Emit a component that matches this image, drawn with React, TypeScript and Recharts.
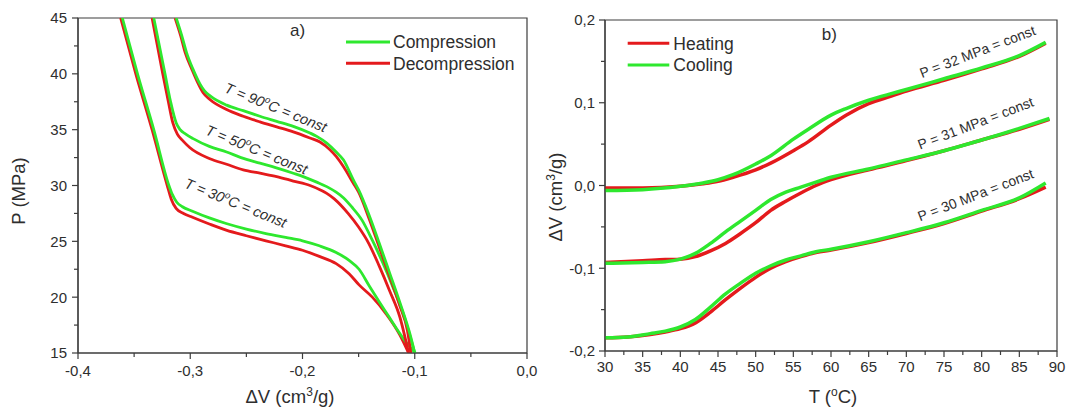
import React from 'react';
import { LineChart, Line, XAxis, YAxis, ReferenceArea, ReferenceDot } from 'recharts';

const GREEN = '#2ee82e';
const RED = '#e41a1c';
const AXIS = '#3c3c3c';
const TEXT = '#2e2e2e';
const FONT = '"Liberation Sans", Arial, Helvetica, sans-serif';

// ---------- Panel a) : [ΔV (cm3/g), P (MPa)] ----------
const compression30: [number, number][] = [
  [-0.3605, 45], [-0.347, 40], [-0.3325, 35], [-0.319, 30], [-0.316, 29.2], [-0.312, 28.5],
  [-0.307, 28.1], [-0.298, 27.7], [-0.283, 27.1], [-0.268, 26.6], [-0.25, 26.1], [-0.2326, 25.7],
  [-0.215, 25.35], [-0.2, 25.05], [-0.185, 24.6], [-0.17, 24.0], [-0.1585, 23.3], [-0.1496, 22.5],
  [-0.1405, 21.0], [-0.1317, 19.6], [-0.124, 18.4], [-0.1163, 17.2], [-0.108, 16.0], [-0.0995, 15],
];
const decompression30: [number, number][] = [
  [-0.362, 45], [-0.3485, 40], [-0.334, 35], [-0.3205, 30], [-0.317, 28.8], [-0.3126, 27.95],
  [-0.306, 27.5], [-0.298, 27.15], [-0.283, 26.55], [-0.268, 26.0], [-0.25, 25.5], [-0.2326, 25.05],
  [-0.215, 24.6], [-0.2, 24.2], [-0.185, 23.65], [-0.17, 23.0], [-0.1585, 22.1], [-0.1496, 21.1],
  [-0.1378, 20.0], [-0.1255, 18.5], [-0.1132, 16.6], [-0.1055, 15],
];
const compression50: [number, number][] = [
  [-0.3325, 45], [-0.3225, 40], [-0.3175, 37.5], [-0.3125, 35.6], [-0.309, 35.0], [-0.304, 34.6],
  [-0.2974, 34.2], [-0.283, 33.5], [-0.2676, 33.0], [-0.2548, 32.5], [-0.2379, 32.0], [-0.224, 31.6],
  [-0.2082, 31.1], [-0.1994, 30.8], [-0.1873, 30.3], [-0.1784, 29.9], [-0.17, 29.4], [-0.1636, 28.9],
  [-0.1563, 28.1], [-0.147, 26.9], [-0.1378, 25.1], [-0.1286, 23.1], [-0.1194, 20.9], [-0.1102, 18.5],
  [-0.1, 15],
];
const decompression50: [number, number][] = [
  [-0.334, 45], [-0.3245, 40], [-0.3195, 37.5], [-0.3155, 35.6], [-0.3115, 34.6], [-0.3065, 34.0],
  [-0.3005, 33.4], [-0.2825, 32.4], [-0.2676, 31.9], [-0.2528, 31.4], [-0.2379, 31.1], [-0.223, 30.8],
  [-0.2082, 30.4], [-0.1933, 30.0], [-0.184, 29.6], [-0.1784, 29.3], [-0.1717, 28.8], [-0.1594, 27.5],
  [-0.1502, 26.3], [-0.1409, 24.8], [-0.1317, 22.8], [-0.1225, 20.6], [-0.1132, 18.2], [-0.1055, 15],
];
const compression90: [number, number][] = [
  [-0.3125, 45], [-0.3075, 43.4], [-0.3033, 41.9], [-0.2975, 40.4], [-0.2914, 39.1], [-0.2875, 38.5],
  [-0.282, 38.0], [-0.2676, 37.2], [-0.2528, 36.7], [-0.2379, 36.2], [-0.223, 35.75], [-0.2082, 35.3],
  [-0.1933, 34.7], [-0.1873, 34.4], [-0.1784, 33.8], [-0.17, 33.0], [-0.1636, 32.3], [-0.1547, 30.5],
  [-0.15, 29.6], [-0.1409, 27.4], [-0.1317, 24.85], [-0.1225, 22.2], [-0.1132, 19.5], [-0.104, 16.6],
  [-0.1, 15],
];
const decompression90: [number, number][] = [
  [-0.3135, 45], [-0.3085, 43.4], [-0.3045, 41.9], [-0.2985, 40.4], [-0.2928, 39.1], [-0.2885, 38.3],
  [-0.2825, 37.7], [-0.2676, 36.8], [-0.2528, 36.2], [-0.2379, 35.7], [-0.223, 35.25], [-0.2082, 34.8],
  [-0.1933, 34.25], [-0.1844, 33.9], [-0.1755, 33.2], [-0.17, 32.6], [-0.1636, 31.7], [-0.1547, 30.2],
  [-0.15, 29.4], [-0.1409, 27.1], [-0.1317, 24.5], [-0.1225, 21.9], [-0.1132, 19.2], [-0.1065, 17.0],
  [-0.1035, 15],
];
const aXTicks = [-0.4, -0.35, -0.3, -0.25, -0.2, -0.15, -0.1, -0.05, 0];
const aYTicks = [15, 17.5, 20, 22.5, 25, 27.5, 30, 32.5, 35, 37.5, 40, 42.5, 45];
const aCurveLabels = [
  { dv: -0.2238, p: 36.99, t: '90' },
  { dv: -0.2409, p: 33.21, t: '50' },
  { dv: -0.2595, p: 28.44, t: '30' },
];

// ---------- Panel b) : T (°C) vs ΔV (cm3/g) ----------
const temps32 = [30, 35, 40, 43, 45, 47, 50, 52, 55, 57, 60, 62, 65, 68, 70, 75, 80, 85, 88.5];
const heating32 = [-0.003, -0.003, -0.001, 0.002, 0.005, 0.01, 0.019, 0.027, 0.042, 0.053, 0.073, 0.085, 0.099, 0.108, 0.114, 0.127, 0.141, 0.156, 0.172];
const cooling32 = [-0.006, -0.005, -0.001, 0.003, 0.007, 0.013, 0.026, 0.036, 0.056, 0.068, 0.085, 0.093, 0.103, 0.111, 0.116, 0.129, 0.142, 0.157, 0.173];

const temps31 = [30, 35, 38, 40, 42, 44, 46, 48, 50, 52, 54, 56, 58, 60, 65, 70, 75, 80, 85, 89];
const heating31 = [-0.093, -0.091, -0.0895, -0.089, -0.086, -0.079, -0.07, -0.058, -0.045, -0.03, -0.019, -0.009, 0.0, 0.007, 0.019, 0.03, 0.042, 0.055, 0.068, 0.08];
const cooling31 = [-0.094, -0.093, -0.092, -0.089, -0.082, -0.07, -0.056, -0.043, -0.03, -0.017, -0.008, -0.002, 0.004, 0.01, 0.02, 0.031, 0.042, 0.055, 0.069, 0.081];

const temps30 = [30, 33, 36, 38, 40, 42, 44, 46, 48, 50, 52, 54, 56, 58, 60, 65, 70, 75, 80, 85, 88.5];
const heating30 = [-0.184, -0.183, -0.18, -0.177, -0.173, -0.166, -0.153, -0.138, -0.124, -0.111, -0.1, -0.092, -0.086, -0.081, -0.078, -0.069, -0.058, -0.046, -0.031, -0.016, -0.002];
const cooling30 = [-0.184, -0.183, -0.179, -0.176, -0.171, -0.162, -0.147, -0.131, -0.118, -0.106, -0.097, -0.09, -0.085, -0.08, -0.077, -0.068, -0.057, -0.045, -0.03, -0.015, 0.003];

const bXTicks = [30, 32.5, 35, 37.5, 40, 42.5, 45, 47.5, 50, 52.5, 55, 57.5, 60, 62.5, 65, 67.5, 70, 72.5, 75, 77.5, 80, 82.5, 85, 87.5, 90];
const bYTicks = [-0.2, -0.15, -0.1, -0.05, 0, 0.05, 0.1, 0.15, 0.2];
const bCurveLabels = [
  { t: 79.45, dv: 0.1617, p: '32' },
  { t: 79.2, dv: 0.0752, p: '31' },
  { t: 79.2, dv: -0.0115, p: '30' },
];

// ---------- helpers ----------
const toPts = (arr: [number, number][]) => arr.map(([v, p]) => ({ v, p }));
const zipPts = (ts: number[], vs: number[]) => ts.map((t, i) => ({ t, dv: vs[i] }));
const commaFmt = (v: number, d: number) => v.toFixed(d).replace('.', ',');
const isTenth = (v: number) => Math.abs(Math.round(v * 10) - v * 10) < 1e-6;
const isFive = (v: number) => Math.abs(v % 5) < 1e-6;

const makeXTick = (isMajor: (v: number) => boolean, fmt: (v: number) => string, labelDy: number) =>
  (props: any) => {
    const { x, y, payload } = props;
    const v = payload.value;
    const major = isMajor(v);
    return (
      <g>
        <line x1={x} x2={x} y1={y} y2={y + (major ? 6 : 4)} stroke={AXIS} strokeWidth={1.2} />
        {major && (
          <text x={x} y={y + labelDy} textAnchor="middle" fontSize={15} fill={TEXT} fontFamily={FONT}>
            {fmt(v)}
          </text>
        )}
      </g>
    );
  };

const makeYTick = (isMajor: (v: number) => boolean, fmt: (v: number) => string, gap: number) =>
  (props: any) => {
    const { x, y, payload } = props;
    const v = payload.value;
    const major = isMajor(v);
    return (
      <g>
        <line x1={x - (major ? 6 : 4)} x2={x} y1={y} y2={y} stroke={AXIS} strokeWidth={1.2} />
        {major && (
          <text x={x - gap} y={y} dy="0.36em" textAnchor="end" fontSize={15} fill={TEXT} fontFamily={FONT}>
            {fmt(v)}
          </text>
        )}
      </g>
    );
  };

const aLabelShape = (t: string) => (props: any) => {
  const { cx, cy } = props;
  return (
    <text x={cx} y={cy} dy="0.35em" transform={`rotate(22 ${cx} ${cy})`} textAnchor="middle"
      fontSize={14.5} fontStyle="italic" fill={TEXT} fontFamily={FONT}>
      T = {t}<tspan dy={-6} fontSize={9.5}>o</tspan><tspan dy={6}>C = const</tspan>
    </text>
  );
};

const bLabelShape = (p: string) => (props: any) => {
  const { cx, cy } = props;
  return (
    <text x={cx} y={cy} dy="0.35em" transform={`rotate(-21 ${cx} ${cy})`} textAnchor="middle"
      fontSize={14} fill={TEXT} fontFamily={FONT}>
      {`P = ${p} MPa = const`}
    </text>
  );
};

export default function App() {
  const lineA = { dot: false, isAnimationActive: false, type: 'monotone' as const, strokeWidth: 2.8 };
  const lineB = { dot: false, isAnimationActive: false, type: 'monotone' as const, strokeWidth: 3.5 };
  return (
    <div style={{ position: 'absolute', left: 0, top: 0, width: 1067, height: 407, background: '#fff', fontFamily: FONT, overflow: 'hidden' }}>
      {/* Panel a */}
      <div style={{ position: 'absolute', left: 0, top: 0 }}>
        <LineChart width={540} height={407} margin={{ top: 18, right: 13, bottom: 0, left: 0 }}>
          <XAxis type="number" dataKey="v" domain={[-0.4, 0]} ticks={aXTicks} interval={0}
            allowDataOverflow height={54} tickSize={0} tickMargin={0} tickLine={false}
            axisLine={{ stroke: AXIS, strokeWidth: 1.2 }} tick={makeXTick(isTenth, (v) => commaFmt(v, 1), 23)} />
          <YAxis type="number" dataKey="p" domain={[15, 45]} ticks={aYTicks} interval={0}
            allowDataOverflow width={78} tickSize={0} tickMargin={0} tickLine={false}
            axisLine={{ stroke: AXIS, strokeWidth: 1.2 }} tick={makeYTick(isFive, (v) => String(v), 11)} />
          <ReferenceArea x1={-0.4} x2={0} y1={15} y2={45} fill="none" fillOpacity={0} stroke={AXIS} strokeWidth={1.2} ifOverflow="visible" />
          <Line data={toPts(decompression30)} dataKey="p" stroke={RED} {...lineA} />
          <Line data={toPts(compression30)} dataKey="p" stroke={GREEN} {...lineA} />
          <Line data={toPts(decompression50)} dataKey="p" stroke={RED} {...lineA} />
          <Line data={toPts(compression50)} dataKey="p" stroke={GREEN} {...lineA} />
          <Line data={toPts(decompression90)} dataKey="p" stroke={RED} {...lineA} />
          <Line data={toPts(compression90)} dataKey="p" stroke={GREEN} {...lineA} />
          {aCurveLabels.map((l) => (
            <ReferenceDot key={l.t} x={l.dv} y={l.p} r={1} ifOverflow="visible" shape={aLabelShape(l.t)} />
          ))}
        </LineChart>
      </div>

      {/* Panel b */}
      <div style={{ position: 'absolute', left: 540, top: 0 }}>
        <LineChart width={527} height={407} margin={{ top: 20, right: 10, bottom: 0, left: 0 }}>
          <XAxis type="number" dataKey="t" domain={[30, 90]} ticks={bXTicks} interval={0}
            allowDataOverflow height={56} tickSize={0} tickMargin={0} tickLine={false}
            axisLine={{ stroke: AXIS, strokeWidth: 1.2 }} tick={makeXTick(isFive, (v) => String(v), 21)} />
          <YAxis type="number" dataKey="dv" domain={[-0.2, 0.2]} ticks={bYTicks} interval={0}
            allowDataOverflow width={65} tickSize={0} tickMargin={0} tickLine={false}
            axisLine={{ stroke: AXIS, strokeWidth: 1.2 }} tick={makeYTick(isTenth, (v) => commaFmt(v, 1), 10)} />
          <ReferenceArea x1={30} x2={90} y1={-0.2} y2={0.2} fill="none" fillOpacity={0} stroke={AXIS} strokeWidth={1.2} ifOverflow="visible" />
          <Line data={zipPts(temps32, heating32)} dataKey="dv" stroke={RED} {...lineB} />
          <Line data={zipPts(temps32, cooling32)} dataKey="dv" stroke={GREEN} {...lineB} />
          <Line data={zipPts(temps31, heating31)} dataKey="dv" stroke={RED} {...lineB} />
          <Line data={zipPts(temps31, cooling31)} dataKey="dv" stroke={GREEN} {...lineB} />
          <Line data={zipPts(temps30, heating30)} dataKey="dv" stroke={RED} {...lineB} />
          <Line data={zipPts(temps30, cooling30)} dataKey="dv" stroke={GREEN} {...lineB} />
          {bCurveLabels.map((l) => (
            <ReferenceDot key={l.p} x={l.t} y={l.dv} r={1} ifOverflow="visible" shape={bLabelShape(l.p)} />
          ))}
        </LineChart>
      </div>

      {/* Titles, legends and panel letters */}
      <svg width={1067} height={407} style={{ position: 'absolute', left: 0, top: 0, pointerEvents: 'none' }} fontFamily={FONT}>
        {/* panel a */}
        <text x={290} y={35.5} fontSize={17} fill={TEXT}>a)</text>
        <line x1={346} x2={390} y1={42} y2={42} stroke={GREEN} strokeWidth={3} />
        <text x={393} y={48.3} fontSize={17.5} fill={TEXT}>Compression</text>
        <line x1={346} x2={390} y1={63.3} y2={63.3} stroke={RED} strokeWidth={3} />
        <text x={393} y={69.6} fontSize={17.5} fill={TEXT}>Decompression</text>
        <text x={19} y={191} dy="0.35em" transform="rotate(-90 19 191)" textAnchor="middle" fontSize={18.5} fill={TEXT}>P (MPa)</text>
        <text x={290} y={403} textAnchor="middle" fontSize={18.5} fill={TEXT}>
          ΔV (cm<tspan dy={-7} fontSize={12}>3</tspan><tspan dy={7}>/g)</tspan>
        </text>

        {/* panel b */}
        <text x={821.7} y={40} fontSize={17} fill={TEXT}>b)</text>
        <line x1={627.7} x2={669.3} y1={43.3} y2={43.3} stroke={RED} strokeWidth={3} />
        <text x={673.3} y={49.6} fontSize={17.5} fill={TEXT}>Heating</text>
        <line x1={627.7} x2={669.3} y1={65} y2={65} stroke={GREEN} strokeWidth={3} />
        <text x={673.3} y={71.3} fontSize={17.5} fill={TEXT}>Cooling</text>
        <text x={556} y={197} dy="0.35em" transform="rotate(-90 556 197)" textAnchor="middle" fontSize={18.5} fill={TEXT}>
          ΔV (cm<tspan dy={-7} fontSize={12}>3</tspan><tspan dy={7}>/g)</tspan>
        </text>
        <text x={833} y={403} textAnchor="middle" fontSize={18.5} fill={TEXT}>
          T (<tspan dy={-7} fontSize={12}>o</tspan><tspan dy={7}>C)</tspan>
        </text>
      </svg>
    </div>
  );
}
